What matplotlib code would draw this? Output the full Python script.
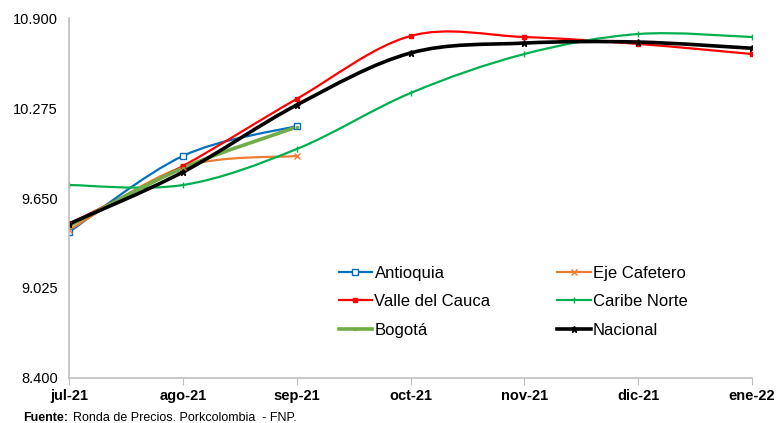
import numpy as np
import matplotlib.pyplot as plt
from matplotlib.path import Path
from matplotlib.patches import PathPatch
from matplotlib.lines import Line2D

plt.rcParams['font.family'] = ['Liberation Sans', 'DejaVu Sans']

MONTHS = ['jul-21', 'ago-21', 'sep-21', 'oct-21', 'nov-21', 'dic-21', 'ene-22']
YTICKS = [8400, 9025, 9650, 10275, 10900]

antioquia = [9414, 9942, 10150]
eje_cafetero = [9428, 9865, 9942]
valle = [9470, 9872, 10338, 10775, 10768, 10720, 10650]
caribe = [9740, 9740, 9990, 10379, 10650, 10789, 10768]
bogota = [9456, 9858, 10143]
nacional = [9470, 9830, 10296, 10657, 10726, 10733, 10690]

# name, values, color, linewidth, marker, msize, mfc
SERIES = [
  ('Antioquia', antioquia, '#0070C0', 1.6, 's', 4.5, 'white'),
  ('Eje Cafetero', eje_cafetero, '#ED7D31', 1.6, 'x', 5, None),
  ('Valle del Cauca', valle, '#FF0000', 1.6, 's', 3.5, None),
  ('Caribe Norte', caribe, '#00B050', 1.6, '|', 5, None),
  ('Bogotá', bogota, '#70AD47', 2.6, '.', 3, None),
  ('Nacional', nacional, '#000000', 2.6, '*', 4.5, None),
]


def smooth_path(x, y):
  # excel-like smoothed line: cubic bezier through the points
  x = np.asarray(x, float)
  y = np.asarray(y, float)
  n = len(x)
  verts = [(x[0], y[0])]
  codes = [Path.MOVETO]
  for i in range(n - 1):
    i0 = max(i - 1, 0)
    i3 = min(i + 2, n - 1)
    c1 = (x[i] + (x[i + 1] - x[i0]) / 6, y[i] + (y[i + 1] - y[i0]) / 6)
    c2 = (x[i + 1] - (x[i3] - x[i]) / 6, y[i + 1] - (y[i3] - y[i]) / 6)
    verts += [c1, c2, (x[i + 1], y[i + 1])]
    codes += [Path.CURVE4] * 3
  return Path(verts, codes)


fig = plt.figure(figsize=(7.78, 4.23), dpi=100)
ax = fig.add_axes([0.0887, 0.1064, 0.878, 0.851])

handles = {}
for name, vals, c, lw, mk, ms, mfc in SERIES:
  xs = np.arange(len(vals))
  ax.add_patch(PathPatch(smooth_path(xs, vals), facecolor='none', edgecolor=c,
                         lw=lw, capstyle='round', joinstyle='round'))
  ax.plot(xs, vals, linestyle='none', marker=mk, color=c, markersize=ms,
          markerfacecolor=mfc if mfc else c, markeredgecolor=c, markeredgewidth=1)
  handles[name] = Line2D([], [], color=c, lw=lw, marker=mk, markersize=ms,
                         markerfacecolor=mfc if mfc else c, markeredgecolor=c)

ax.set_xlim(0, 6)
ax.set_ylim(8400, 10900)
ax.set_xticks(range(len(MONTHS)))
ax.set_xticklabels(MONTHS, fontsize=10.5, fontweight='bold')
ax.set_yticks(YTICKS)
ax.set_yticklabels([f'{v:,}'.replace(',', '.') for v in YTICKS], fontsize=10.5)
ax.tick_params(axis='y', length=0, pad=8)
ax.tick_params(axis='x', length=5, direction='out', color='#BFBFBF', pad=3)
for s in ['top', 'right']:
  ax.spines[s].set_visible(False)
for s in ['left', 'bottom']:
  ax.spines[s].set_color('#BFBFBF')
  ax.spines[s].set_linewidth(1.2)

order = ['Antioquia', 'Valle del Cauca', 'Bogotá', 'Eje Cafetero', 'Caribe Norte', 'Nacional']
ax.legend([handles[k] for k in order], order, ncol=2, frameon=False,
          fontsize=12, loc='upper left', bbox_to_anchor=(0.385, 0.33),
          handlelength=2.0, handletextpad=0.15, columnspacing=4.0,
          labelspacing=0.8, borderaxespad=0)

fig.text(0.03, 0.004, 'Fuente:', fontsize=9, fontweight='bold')
fig.text(0.094, 0.004, 'Ronda de Precios. Porkcolombia  - FNP.', fontsize=9)

fig.savefig('out.png', dpi=100)
